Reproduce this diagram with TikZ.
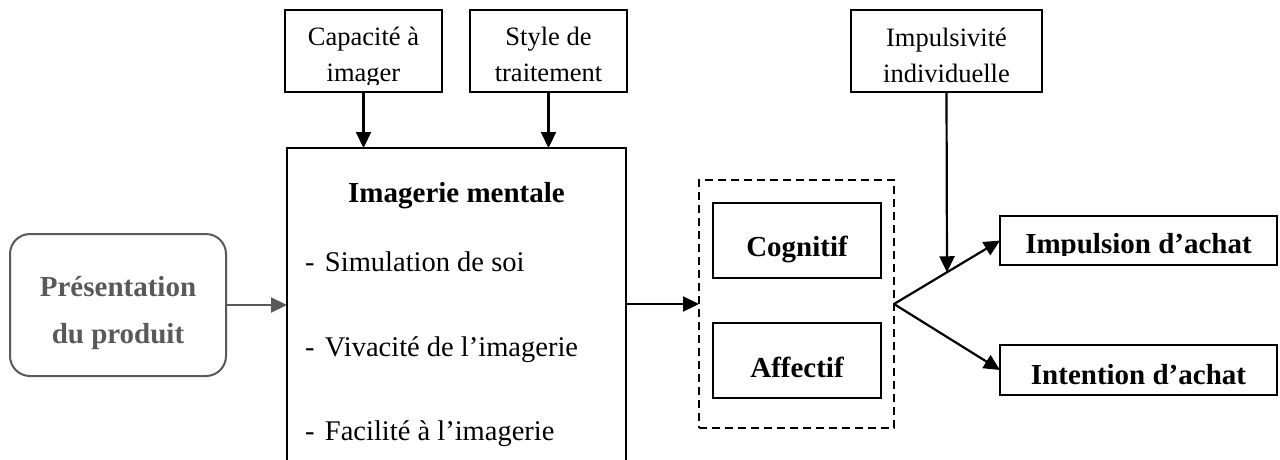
\documentclass[tikz,border=0pt]{standalone}
\usepackage{fontspec}
\setmainfont{Liberation Serif}
\usetikzlibrary{arrows.meta,calc}
\definecolor{gr}{HTML}{595959}
\begin{document}
\begin{tikzpicture}[x=1pt,y=-1pt,
  box/.style={draw, line width=2pt, inner sep=0pt, outer sep=0pt},
  lbl/.style={anchor=base, inner sep=0pt, outer sep=0pt},
  reg/.style={font=\fontsize{26.5}{32}\selectfont},
  lst/.style={font=\fontsize{28.5}{34}\selectfont},
  bld/.style={font=\fontsize{29}{35}\selectfont\bfseries},
  arr/.style={line width=2.2pt, -{Triangle[length=16pt,width=15pt]}},
  dashbox/.style={draw, line width=1.6pt, dash pattern=on 8pt off 5pt, inner sep=0pt, outer sep=0pt},
]
\useasboundingbox (0,0) rectangle (1280,459);
\clip (0,0) rectangle (1280,459);

% boxes
\node[box, minimum width=157pt, minimum height=82pt] (cap) at (363.5,51) {};
\node[box, minimum width=157pt, minimum height=82pt] (sty) at (548.5,51) {};
\node[box, minimum width=191pt, minimum height=82pt] (imp) at (946.5,51) {};
\node[box, minimum width=339pt, minimum height=332pt] (img) at (456.5,314) {};
\node[box, draw=gr, rounded corners=20pt, minimum width=216pt, minimum height=142pt] (pres) at (118,305) {};
\node[dashbox, minimum width=195pt, minimum height=248pt] (dsh) at (796.5,304) {};
\node[box, minimum width=168pt, minimum height=75pt] (cog) at (797,240.5) {};
\node[box, minimum width=168pt, minimum height=75pt] (aff) at (797,360.5) {};
\node[box, minimum width=277pt, minimum height=49pt] (ipa) at (1138.5,240.5) {};
\node[box, minimum width=277pt, minimum height=50pt] (ita) at (1138.5,370) {};

% texts
\begin{scope}
\clip (285,10) rectangle (442,84);
\node[lbl, reg] (capa) at (363.5,45.5) {Capacité à};
\node[lbl, reg] (capb) at (363.5,81) {imager};
\end{scope}
\node[lbl, reg] (stya) at (548.5,45.5) {Style de};
\node[lbl, reg] (styb) at (548.5,81) {traitement};
\node[lbl, reg] (impa) at (946.5,46) {Impulsivité};
\node[lbl, reg] (impb) at (946.5,82) {individuelle};

\node[lbl, bld] (imgt) at (456.5,202) {Imagerie mentale};
\node[lbl, lst, anchor=base west] (l1) at (305,271) {\makebox[20pt][l]{-}Simulation de soi};
\node[lbl, lst, anchor=base west] (l2) at (305,356) {\makebox[20pt][l]{-}Vivacité de l’imagerie};
\node[lbl, lst, anchor=base west] (l3) at (305,440) {\makebox[20pt][l]{-}Facilité à l’imagerie};

\node[lbl, bld, text=gr] (presa) at (118,296) {Présentation};
\node[lbl, bld, text=gr] (presb) at (118,343) {du produit};

\node[lbl, bld] (cogt) at (797,256) {Cognitif};
\node[lbl, bld] (afft) at (797,377) {Affectif};

\begin{scope}
\clip (1000,216) rectangle (1277,255);
\node[lbl, bld] (ipat) at (1138.5,253) {Impulsion d’achat};
\end{scope}
\node[lbl, bld] (itat) at (1138.5,384) {Intention d’achat};

% connectors
\draw[arr] (cap.south) -- (cap.south |- img.north);
\draw[arr] (sty.south) -- (sty.south |- img.north);
\draw[arr, draw=gr, fill=gr, line width=2pt] (pres.east) -- (pres.east -| img.west);
\draw[arr] (img.east |- dsh.west) -- (dsh.west);
\coordinate (br) at (dsh.east);
\draw[arr] (br) -- (ipa.west);
\draw[arr] (br) -- (ita.west);
\path (br) -- (ipa.west) coordinate[pos=0.5] (m);
\draw[arr] (imp.south) -- (m);
\end{tikzpicture}
\end{document}
